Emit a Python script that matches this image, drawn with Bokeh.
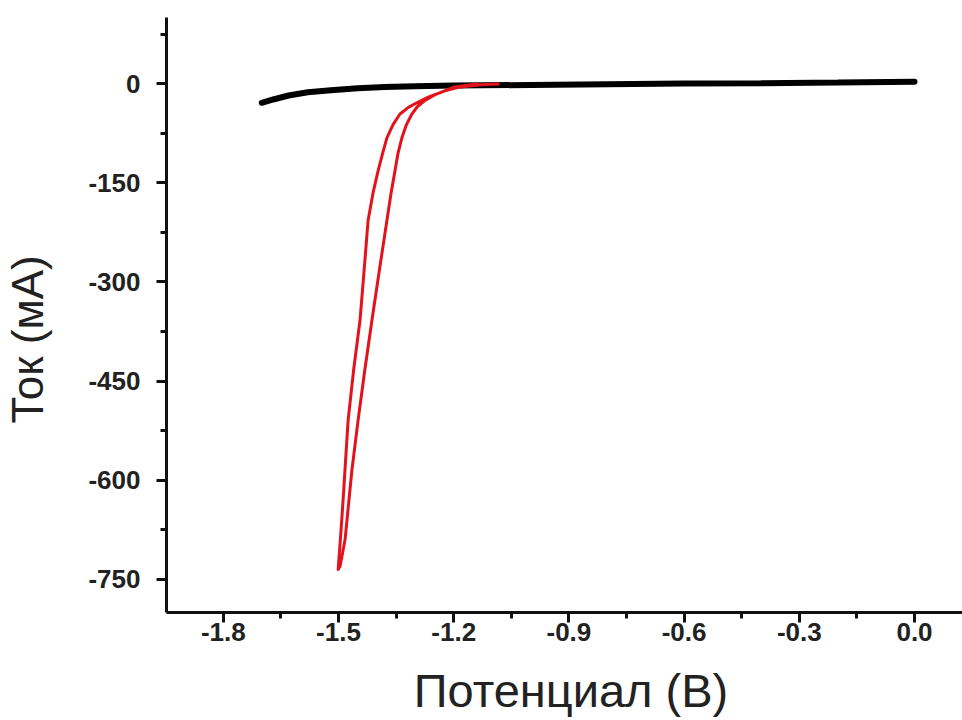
from bokeh.plotting import figure
from bokeh.models import FixedTicker, NumeralTickFormatter, Range1d
from bokeh.embed import file_html
from bokeh.resources import INLINE

# Black curve (background scan)
black_x = [-1.70, -1.67, -1.63, -1.58, -1.52, -1.45, -1.38, -1.30, -1.20, -1.00, -0.80, -0.60, -0.40, -0.20, 0.00]
black_y = [-29, -24, -18, -13, -10, -7, -5, -4, -3, -2, -1, 0, 0.5, 1.5, 3]

# Red cyclic curve: forward branch down, then return branch up
red_x = [-1.081, -1.120, -1.159, -1.190, -1.223, -1.250, -1.276, -1.295, -1.309, -1.323, -1.335, -1.345,
         -1.353, -1.363, -1.374, -1.393, -1.413, -1.432, -1.449, -1.465, -1.483, -1.496,
         -1.501, -1.494, -1.488, -1.475, -1.460, -1.444, -1.433, -1.423, -1.410, -1.397, -1.385, -1.374,
         -1.358, -1.340, -1.318, -1.296, -1.265, -1.237, -1.198, -1.160, -1.133]
red_y = [-0.5, -1.5, -3.5, -6, -11, -17, -26, -35, -46, -62, -82, -105,
         -132, -165, -207, -280, -358, -435, -509, -584, -690, -730,
         -735, -680, -629, -509, -430, -358, -280, -207, -165, -132, -105, -82,
         -62, -46, -36, -29, -20, -14, -5, -2, -0.5]

x_ticks = [-1.8, -1.5, -1.2, -0.9, -0.6, -0.3, 0.0]
x_minor = [-1.95, -1.65, -1.35, -1.05, -0.75, -0.45, -0.15]
y_ticks = [0, -150, -300, -450, -600, -750]
y_minor = [75, -75, -225, -375, -525, -675]

NB = "\u00a0"
x_title = NB + "Потенциал (В)"
y_title = "Ток (мА)" + NB * 4

p = figure(width=962, height=720, output_backend="svg", toolbar_location=None,
           x_range=Range1d(-1.948, 0.125), y_range=Range1d(-800, 100),
           min_border_left=166, min_border_top=17, min_border_bottom=108, min_border_right=0)
p.outline_line_color = None
p.xgrid.visible = False
p.ygrid.visible = False
p.background_fill_color = "white"

p.line(black_x, black_y, line_color="black", line_width=6, line_cap="round")
p.line(red_x, red_y, line_color="#e3121c", line_width=3, line_join="round")

for ax in (p.xaxis[0], p.yaxis[0]):
    ax.axis_line_width = 3
    ax.axis_line_color = "#111111"
    ax.major_tick_line_width = 3
    ax.major_tick_line_color = "#111111"
    ax.minor_tick_line_width = 3
    ax.minor_tick_line_color = "#111111"
    ax.major_tick_in = 0
    ax.major_tick_out = 10
    ax.minor_tick_in = 0
    ax.minor_tick_out = 6
    ax.major_label_text_font = "Liberation Sans"
    ax.major_label_text_font_style = "bold"
    ax.major_label_text_font_size = "26px"
    ax.major_label_text_color = "#222222"
    ax.axis_label_text_font = "Liberation Sans"
    ax.axis_label_text_font_style = "normal"
    ax.axis_label_text_color = "#222222"

p.xaxis[0].ticker = FixedTicker(ticks=x_ticks, minor_ticks=x_minor)
p.xaxis[0].formatter = NumeralTickFormatter(format="0.0")
p.xaxis[0].major_label_standoff = 0
p.xaxis[0].axis_label = x_title
p.xaxis[0].axis_label_text_font_size = "47px"
p.xaxis[0].axis_label_standoff = 20

p.yaxis[0].ticker = FixedTicker(ticks=y_ticks, minor_ticks=y_minor)
p.yaxis[0].formatter = NumeralTickFormatter(format="0")
p.yaxis[0].major_label_standoff = 16
p.yaxis[0].axis_label = y_title
p.yaxis[0].axis_label_text_font_size = "44px"
p.yaxis[0].axis_label_standoff = 33

open("out.html", "w").write(file_html(p, INLINE))
